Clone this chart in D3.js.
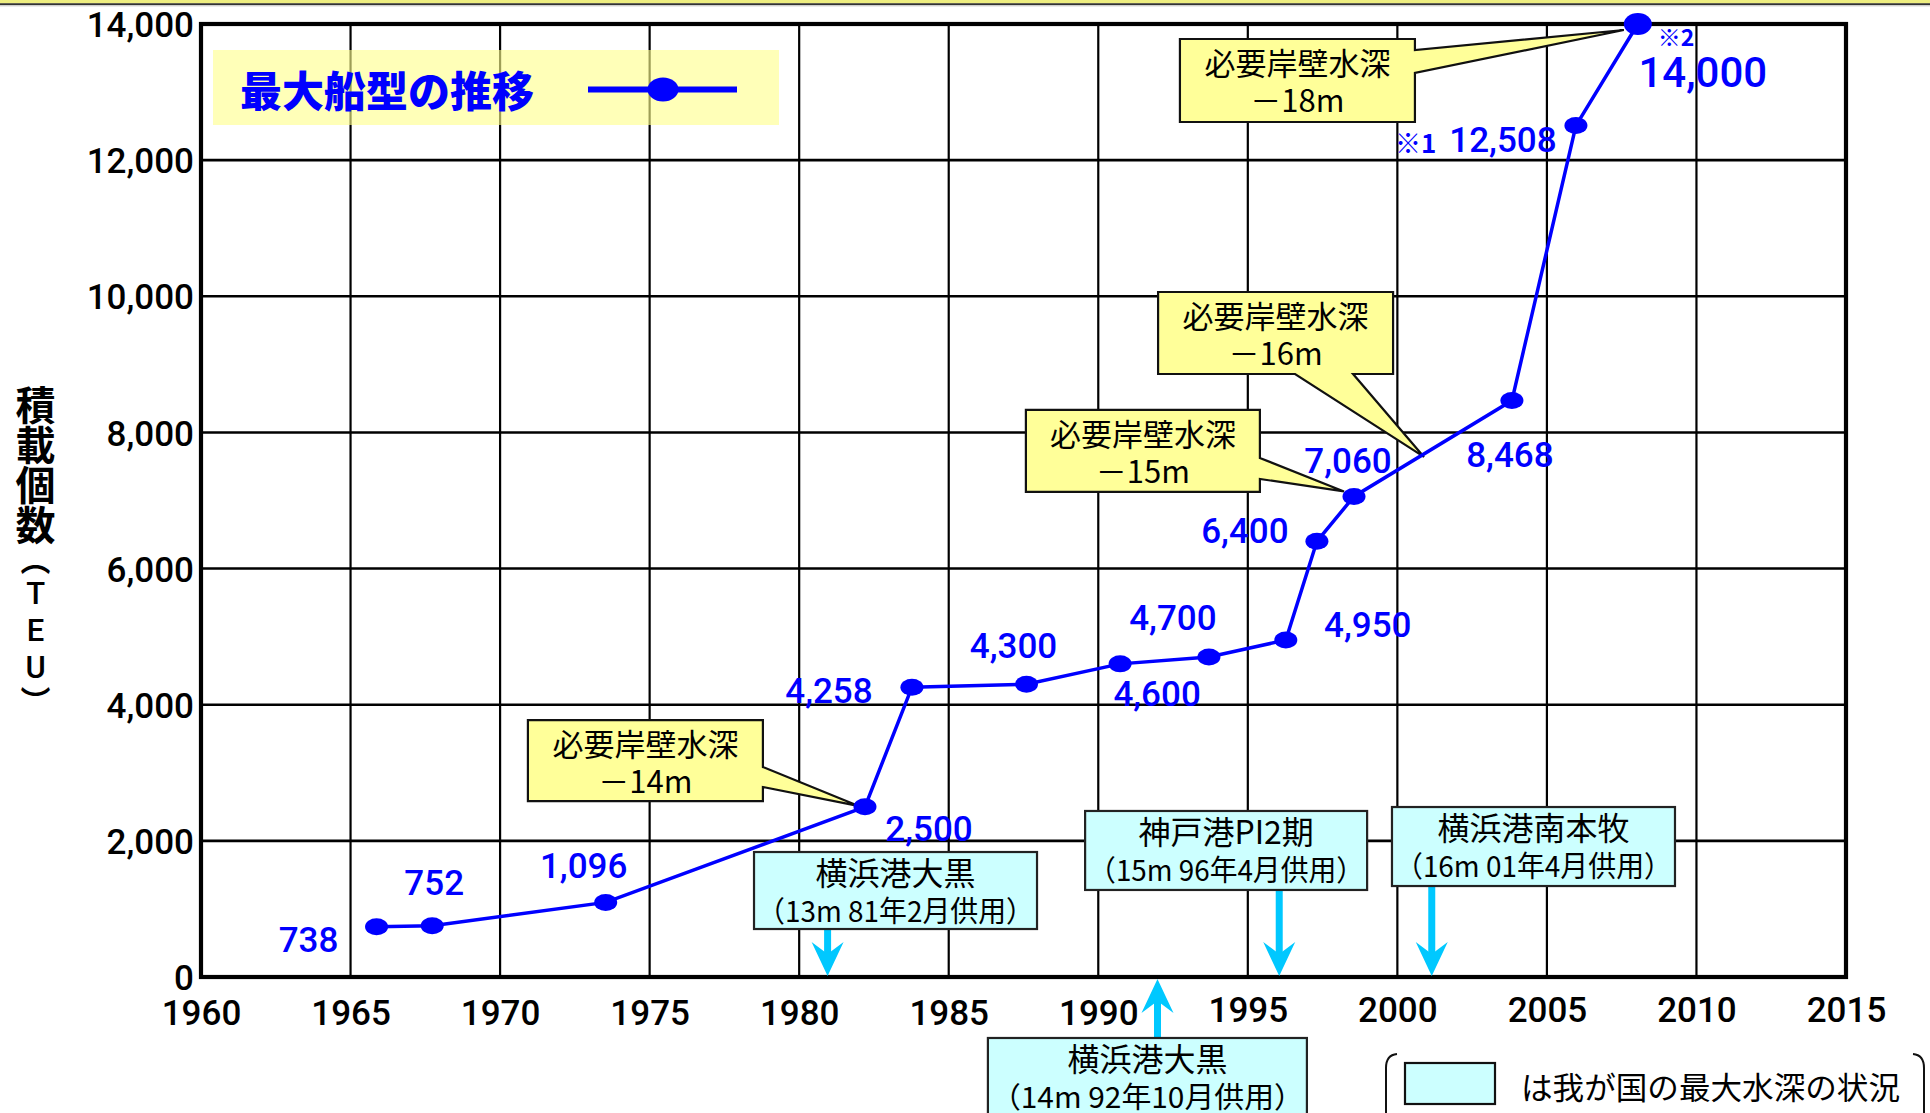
<!DOCTYPE html>
<html><head><meta charset="utf-8">
<script src="https://cdn.jsdelivr.net/npm/d3@7"></script>
<style>html,body{margin:0;padding:0;background:#fff;} svg{display:block}</style>
</head><body>
<svg id="c" width="1930" height="1113"></svg>
<script>
// ---- data ----
const years = [1965.87, 1967.73, 1973.53, 1982.2, 1983.77, 1987.6, 1990.73, 1993.7, 1996.27, 1997.31, 1998.55, 2003.83, 2005.97, 2008.04];
const teu   = [738, 752, 1096, 2500, 4258, 4300, 4600, 4700, 4950, 6400, 7060, 8468, 12508, 14000];
const valueLabels = ["738","752","1,096","2,500","4,258","4,300","4,600","4,700","4,950","6,400","7,060","8,468","12,508","14,000"];
const xTicks = [1960,1965,1970,1975,1980,1985,1990,1995,2000,2005,2010,2015];
const yTicks = [0,2000,4000,6000,8000,10000,12000,14000];
const seriesName = "最大船型の推移";
const yTitleParts = ["積載個数","（","TEU","）"];
// required quay depth callouts
const depthTitle = "必要岸壁水深";
const depthLabels = ["－14m","－15m","－16m","－18m"];
const depthBoxYear = [1970.93, 1987.58, 1992.0, 1992.73];
const depthBoxValue = [3775, 8330, 10063, 13780];
// Japan's max depth events (cyan boxes)
const portNames = ["横浜港大黒","神戸港PI2期","横浜港大黒","横浜港南本牧"];
const portNotes = ["（13m 81年2月供用）","（15m 96年4月供用）","（14m 92年10月供用）","（16m 01年4月供用）"];
const portArrowYear = [1980.95, 1996.05, 1991.98, 2001.15];
const portBoxYear = [1978.49, 1989.56, 1986.31, 1999.82];
const portBoxValue = [1836, 2439, -896, 2497];
const legendNote = "は我が国の最大水深の状況";

// ---- layout ----
const svg = d3.select("#c");
const L = 201, R = 1846, T = 24, B = 977;
const x = d3.scaleLinear().domain([1960, 2015]).range([L, R]);
const y = d3.scaleLinear().domain([0, 14000]).range([B, T]);
const NUM = "Roboto, 'Liberation Sans', Arial, sans-serif";
const CJK = "'Noto Sans CJK JP', 'Noto Sans', sans-serif";

svg.append("rect").attr("width",1930).attr("height",1113).attr("fill","#fff");
// top band
svg.append("rect").attr("x",0).attr("y",0).attr("width",1930).attr("height",3.5).attr("fill","#eeee80");
svg.append("line").attr("x1",0).attr("x2",1930).attr("y1",4.2).attr("y2",4.2).attr("stroke","#333").attr("stroke-width",1.8);
svg.append("line").attr("x1",0).attr("x2",1930).attr("y1",5.8).attr("y2",5.8).attr("stroke","#bbb").attr("stroke-width",1);

// grid
const g = svg.append("g");
g.selectAll(".hg").data(yTicks).join("line")
  .attr("x1",L).attr("x2",R).attr("y1",d=>y(d)).attr("y2",d=>y(d))
  .attr("stroke","#000").attr("stroke-width",2.6);
g.selectAll(".vg").data(xTicks).join("line")
  .attr("y1",T).attr("y2",B).attr("x1",d=>x(d)).attr("x2",d=>x(d))
  .attr("stroke","#000").attr("stroke-width",2.2);

// axes (labels via d3 axes)
const yAxis = svg.append("g").attr("transform",`translate(${L},0)`)
  .call(d3.axisLeft(y).tickValues(yTicks).tickFormat(d3.format(",")).tickSize(0).tickPadding(7));
yAxis.select(".domain").remove();
yAxis.selectAll("text").attr("font-family",NUM).attr("font-weight",500).attr("font-size",35).attr("fill","#000").attr("dy","0.36em");
const xAxis = svg.append("g").attr("transform",`translate(0,${B})`)
  .call(d3.axisBottom(x).tickValues(xTicks).tickFormat(d3.format("d")).tickSize(0).tickPadding(0));
xAxis.select(".domain").remove();
xAxis.selectAll("text").attr("font-family",NUM).attr("font-weight",500).attr("font-size",35).attr("fill","#000")
  .attr("dy",null).attr("y",d=> d>=1995 ? 45 : 48);

// legend (semi-transparent)
svg.append("rect").attr("x",213).attr("y",50).attr("width",566).attr("height",75)
  .attr("fill","#ffff8c").attr("opacity",0.62);
svg.append("text").attr("x",240).attr("y",88).attr("dominant-baseline","central")
  .attr("font-family",CJK).attr("font-weight",900).attr("font-size",42).attr("fill","#0000ff").text(seriesName);
svg.append("line").attr("x1",588).attr("x2",737).attr("y1",89.5).attr("y2",89.5).attr("stroke","#0000ff").attr("stroke-width",6);
svg.append("ellipse").attr("cx",663).attr("cy",89.5).attr("rx",15.5).attr("ry",12).attr("fill","#0000ff");

// plot border
svg.append("rect").attr("x",L).attr("y",T).attr("width",R-L).attr("height",B-T)
  .attr("fill","none").attr("stroke","#000").attr("stroke-width",4.2);

// y title (vertical writing)
const yt = svg.append("text").attr("x",35.5).attr("y",385)
  .attr("dominant-baseline","central")
  .style("writing-mode","vertical-rl").style("text-orientation","upright")
  .attr("font-family",CJK).attr("fill","#000");
const ytSizes = [40,30,31,30], ytWeights = [700,700,500,700];
yTitleParts.forEach((p,i)=>{
  yt.append("tspan").attr("font-size",ytSizes[i]).attr("font-weight",ytWeights[i])
    .attr("font-family", i===2 ? NUM : CJK).text(p);
});

// ---- cyan boxes with arrows ----
const portW = [283,282,319,283], portH = [77,79,80,79];
const cyan = "#00c8ff";
portNames.forEach((name,i)=>{
  const bx = x(portBoxYear[i]), by = y(portBoxValue[i]);
  const w = portW[i], h = portH[i];
  const ax = x(portArrowYear[i]);
  const up = by > B;
  const grp = svg.append("g");
  if (!up) {
    const tip = y(0) - 1, y0 = by + h;
    grp.append("line").attr("x1",ax).attr("x2",ax).attr("y1",y0).attr("y2",tip-20).attr("stroke",cyan).attr("stroke-width",7);
    grp.append("path").attr("d",`M${ax},${tip} L${ax-16},${tip-34} L${ax},${tip-22} L${ax+16},${tip-34} Z`).attr("fill",cyan);
  } else {
    const tip = y(0) + 2, y0 = by;
    grp.append("line").attr("x1",ax).attr("x2",ax).attr("y1",y0).attr("y2",tip+20).attr("stroke",cyan).attr("stroke-width",7);
    grp.append("path").attr("d",`M${ax},${tip} L${ax-16},${tip+34} L${ax},${tip+22} L${ax+16},${tip+34} Z`).attr("fill",cyan);
  }
  grp.append("rect").attr("x",bx).attr("y",by).attr("width",w).attr("height",h)
    .attr("fill","#ccffff").attr("stroke","#222").attr("stroke-width",2.2);
  const t = grp.append("text").attr("font-family",CJK).attr("fill","#000").attr("dominant-baseline","central");
  t.append("tspan").attr("x",bx+w/2).attr("y",by+19).attr("text-anchor","middle").attr("font-size",32).text(name);
  t.append("tspan").attr("x",bx+3).attr("y",by+57).attr("font-size",29)
    .attr("textLength",w-6).attr("lengthAdjust","spacingAndGlyphs").text(portNotes[i]);
});

// ---- depth callouts ----
const depthW = [235,234,235,235], depthH = [81,82,82,83];
const depthSide = ["right","right","bottom","right"];
const depthBase = [[47,67],[48,69],[137,195],[11,34]];
const depthApex = [[x(years[3])-7, y(teu[3])-1],[x(years[10])-10, y(teu[10])-5],[x(2000.89), y(7640)],[x(years[13])-14, y(teu[13])+6]];
depthLabels.forEach((lab,i)=>{
  const bx = x(depthBoxYear[i]), by = y(depthBoxValue[i]), w = depthW[i], h = depthH[i];
  const [b1,b2] = depthBase[i], [ax,ay] = depthApex[i];
  let d;
  if (depthSide[i]==="right")
    d = `M${bx},${by} H${bx+w} V${by+b1} L${ax},${ay} L${bx+w},${by+b2} V${by+h} H${bx} Z`;
  else
    d = `M${bx},${by} H${bx+w} V${by+h} H${bx+b2} L${ax},${ay} L${bx+b1},${by+h} H${bx} Z`;
  svg.append("path").attr("d",d).attr("fill","#ffff99").attr("stroke","#111").attr("stroke-width",2.2).attr("stroke-linejoin","miter");
  const t = svg.append("text").attr("text-anchor","middle").attr("dominant-baseline","central")
    .attr("font-family",CJK).attr("font-size",31).attr("fill","#000");
  t.append("tspan").attr("x",bx+w/2).attr("y",by+22).text(depthTitle);
  t.append("tspan").attr("x",bx+w/2).attr("y",by+59).text(lab);
});

// ---- series ----
const pts = years.map((yr,i)=>({yr, v:teu[i], lab:valueLabels[i]}));
svg.append("path").datum(pts)
  .attr("d", d3.line().x(d=>x(d.yr)).y(d=>y(d.v)))
  .attr("fill","none").attr("stroke","#0000ff").attr("stroke-width",3.5);
svg.selectAll(".pt").data(pts).join("ellipse")
  .attr("cx",d=>x(d.yr)).attr("cy",d=>y(d.v))
  .attr("rx",(d,i)=> i===pts.length-1 ? 14 : 11.5)
  .attr("ry",(d,i)=> i===pts.length-1 ? 11 : 8.5)
  .attr("fill","#0000ff");

// label offsets (pixels, layout only)
const ldx = [-68, 2, -22, 64, -83, -13, 37, -36, 82, -72, -6, -2, -73, 65];
const ldy = [25, -31, -24, 34, 16, -26, 42, -27, -3, 2, -23, 66, 26, 63];
svg.selectAll(".lb").data(pts).join("text")
  .attr("x",(d,i)=>x(d.yr)+ldx[i]).attr("y",(d,i)=>y(d.v)+ldy[i])
  .attr("text-anchor","middle").attr("font-family",NUM).attr("font-weight",500)
  .attr("font-size",(d,i)=> i===pts.length-1 ? 42 : 35)
  .attr("fill","#0000ff").text(d=>d.lab);
// note marks
svg.append("text").attr("x",x(years[12])-181).attr("y",y(teu[12])+27).attr("font-family",CJK).attr("font-weight",700).attr("font-size",26).attr("fill","#0000ff").text("※1");
svg.append("text").attr("x",x(years[13])+20).attr("y",y(teu[13])+22).attr("font-family",CJK).attr("font-weight",700).attr("font-size",23).attr("fill","#0000ff").text("※2");

// ---- bottom legend ----
const lg = svg.append("g");
lg.append("path").attr("d","M1397,1054 Q1386,1055 1386,1068 V1120").attr("fill","none").attr("stroke","#111").attr("stroke-width",2);
lg.append("path").attr("d","M1913,1054 Q1924,1055 1924,1068 V1120").attr("fill","none").attr("stroke","#111").attr("stroke-width",2);
lg.append("rect").attr("x",1405).attr("y",1063).attr("width",90).attr("height",41).attr("fill","#ccffff").attr("stroke","#111").attr("stroke-width",2.2);
lg.append("text").attr("x",1521).attr("y",1085).attr("dominant-baseline","central")
  .attr("font-family",CJK).attr("font-size",31).attr("fill","#000")
  .attr("textLength",379).attr("lengthAdjust","spacingAndGlyphs").text(legendNote);
</script>
</body></html>
